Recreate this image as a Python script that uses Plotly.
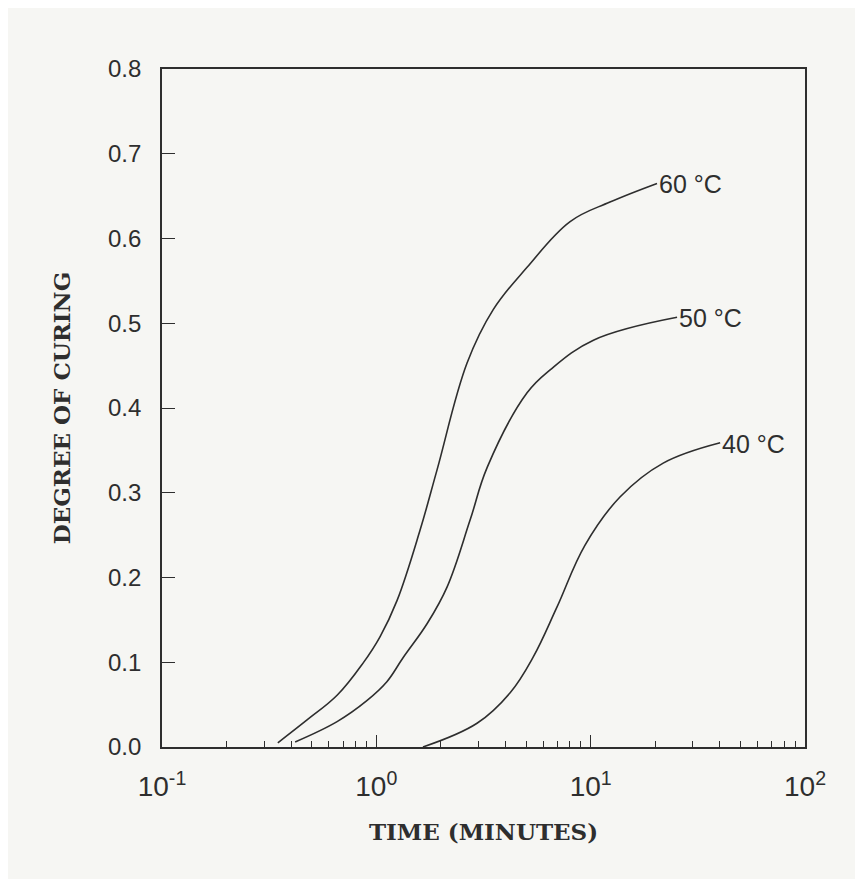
import math
import plotly.graph_objects as go

# Data (time in minutes, degree of curing)
t_60 = [0.347, 0.475, 0.656, 0.867, 1.04, 1.25, 1.60, 1.92, 2.65, 3.51, 5.05, 8.02, 12.3, 20.4]
c_60 = [0.005, 0.032, 0.061, 0.099, 0.130, 0.173, 0.256, 0.327, 0.453, 0.516, 0.566, 0.620, 0.643, 0.665]

t_50 = [0.418, 0.656, 0.906, 1.12, 1.33, 1.73, 2.14, 2.74, 3.29, 5.05, 6.47, 10.3, 25.3]
c_50 = [0.006, 0.030, 0.055, 0.077, 0.105, 0.146, 0.189, 0.268, 0.330, 0.418, 0.445, 0.480, 0.507]

t_40 = [1.65, 2.95, 4.21, 5.39, 6.96, 9.4, 13.7, 21.8, 40.2]
c_40 = [0.000, 0.028, 0.064, 0.106, 0.165, 0.238, 0.295, 0.335, 0.359]

series_labels = ["60 °C", "50 °C", "40 °C"]
x_tickvals = [0.1, 1, 10, 100]
x_ticktext = ["10<sup>-1</sup>", "10<sup>0</sup>", "10<sup>1</sup>", "10<sup>2</sup>"]
y_tickvals = [0.0, 0.1, 0.2, 0.3, 0.4, 0.5, 0.6, 0.7, 0.8]

minor_vals = [m * d for d in (0.1, 1, 10) for m in range(2, 10)]

BG = "#f6f6f3"
INK = "#2e2e2e"
SANS = "Liberation Sans, Arial"
SERIF = "DejaVu Serif, Liberation Serif"

fig = go.Figure()
for t, c, lab in zip([t_60, t_50, t_40], [c_60, c_50, c_40], series_labels):
    fig.add_trace(go.Scatter(x=t, y=c, mode="lines",
                             line=dict(color=INK, width=1.6, shape="spline", smoothing=1.1),
                             showlegend=False, hoverinfo="skip"))
    fig.add_annotation(x=math.log10(t[-1]), y=c[-1], text=lab, showarrow=False,
                       xanchor="left", yanchor="middle", xshift=0, yshift=-1,
                       font=dict(family=SANS, size=25, color=INK))

# x-axis title placed as an annotation so it sits where the reference has it
fig.add_annotation(x=499, y=836, xref="paper", yref="paper", text="", showarrow=False)
fig.layout.annotations = fig.layout.annotations[:-1]

fig.update_layout(
    width=863, height=879,
    paper_bgcolor=BG, plot_bgcolor=BG,
    margin=dict(l=154, r=66, t=61, b=140),
    font=dict(family=SANS, color=INK),
)
fig.update_xaxes(
    type="log", range=[-1, 2],
    tickvals=x_tickvals, ticktext=x_ticktext,
    ticks="inside", ticklen=12, tickwidth=1.2, tickcolor=INK,
    minor=dict(tickvals=minor_vals, ticks="inside", ticklen=6, tickwidth=1, tickcolor=INK),
    showline=True, linecolor=INK, linewidth=1.6, mirror=True,
    showgrid=False, zeroline=False, ticklabelstandoff=14,
    tickfont=dict(family=SANS, size=28, color=INK),
    title=dict(text="<b>TIME (MINUTES)</b>", standoff=22,
               font=dict(family=SERIF, size=23, color=INK)),
)
fig.update_yaxes(
    range=[0, 0.8], tickvals=y_tickvals, tickformat=".1f",
    ticks="inside", ticklen=13, tickwidth=1.2, tickcolor=INK,
    showline=True, linecolor=INK, linewidth=1.6, mirror=True,
    showgrid=False, zeroline=False, ticklabelstandoff=14,
    tickfont=dict(family=SANS, size=24, color=INK),
    title=dict(text="<b>DEGREE OF CURING</b>", standoff=31,
               font=dict(family=SERIF, size=23, color=INK)),
)

fig.write_html("out.html")
